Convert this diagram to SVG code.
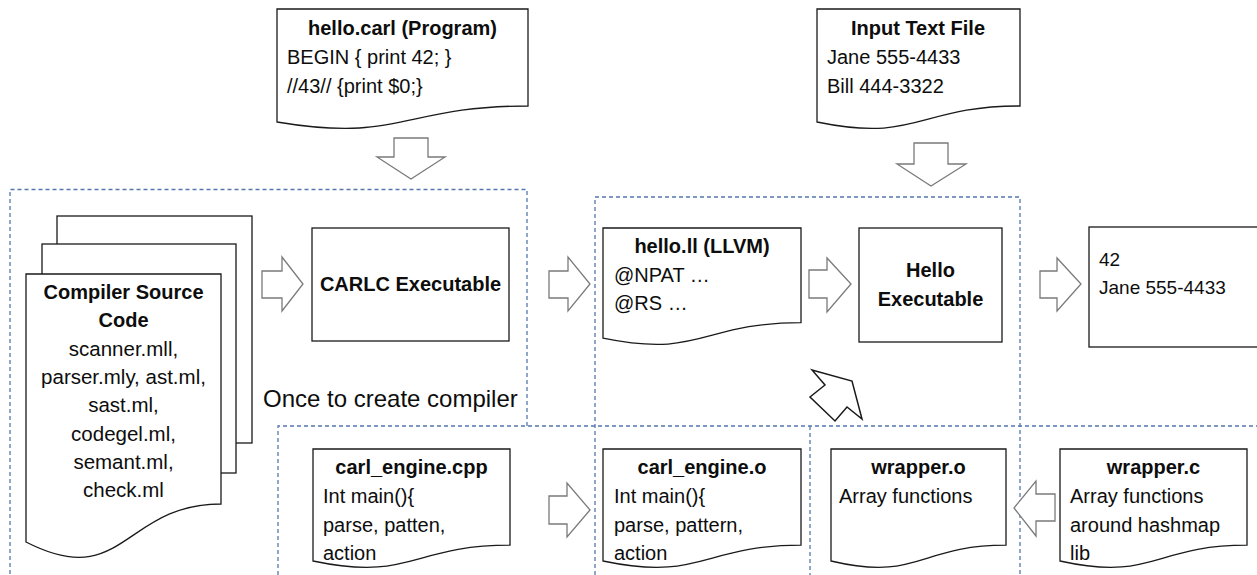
<svg xmlns="http://www.w3.org/2000/svg" width="1257" height="575" viewBox="0 0 1257 575">
<style>
.bg{fill:#ffffff}
.doc{fill:#ffffff;stroke:#1a1a1a;stroke-width:1.3}
.box{fill:#ffffff;stroke:#1a1a1a;stroke-width:1.3}
.zone{fill:none;stroke:#5677b0;stroke-width:1.3;stroke-dasharray:4 3}
.blk{fill:#ffffff;stroke:#7a7a7a;stroke-width:1.3;stroke-linejoin:miter}
.blk2{fill:#ffffff;stroke:#1a1a1a;stroke-width:1.5;stroke-linejoin:miter}
text{font-family:"Liberation Sans",Arial,sans-serif;font-size:20px;fill:#0d0d0d}
.b{font-weight:bold}
.c{text-anchor:middle}
</style>
<rect class="bg" x="0" y="0" width="1257" height="575"/>
<g id="zones">
<path class="zone" d="M527,426 V189.5 H10 V575"/>
<path class="zone" d="M595,575 V197 H1020 V575"/>
<path class="zone" d="M278,575 V426 H1257"/>
<path class="zone" d="M810,426 V575"/>
</g>
<g id="hello_carl">
<path class="doc" d="M277,9 H528 V106 C402.5,106 402.5,143 277,122 Z"/>
<text class="b c" x="402.5" y="35">hello.carl (Program)</text>
<text x="287" y="64">BEGIN { print 42; }</text>
<text x="287" y="93">//43// {print $0;}</text>
</g>
<g id="input_text_file">
<path class="doc" d="M817,9 H1020 V106 C918.5,106 918.5,143 817,122 Z"/>
<text class="b c" x="918" y="35">Input Text File</text>
<text x="827" y="64">Jane 555-4433</text>
<text x="827" y="93">Bill 444-3322</text>
</g>
<g id="compiler_source">
<rect class="box" x="57" y="216" width="195" height="227"/>
<rect class="box" x="42" y="244" width="194" height="229"/>
<path class="doc" d="M26,274 H221 V504 C123.5,504 123.5,592 26,542 Z"/>
<text class="b c" x="123.5" y="299">Compiler Source</text>
<text class="b c" x="123.5" y="327">Code</text>
<text class="c" x="123.5" y="356" style="font-size:20.5px">scanner.mll,</text>
<text class="c" x="123.5" y="384" style="font-size:20.5px">parser.mly, ast.ml,</text>
<text class="c" x="123.5" y="412" style="font-size:20.5px">sast.ml,</text>
<text class="c" x="123.5" y="441" style="font-size:20.5px">codegel.ml,</text>
<text class="c" x="123.5" y="469" style="font-size:20.5px">semant.ml,</text>
<text class="c" x="123.5" y="497" style="font-size:20.5px">check.ml</text>
</g>
<g id="carlc_executable">
<rect class="box" x="312" y="228" width="197" height="113"/>
<text class="b c" x="410.5" y="291">CARLC Executable</text>
</g>
<g id="once_label">
<text x="263" y="407" style="font-size:24px">Once to create compiler</text>
</g>
<g id="hello_ll">
<path class="doc" d="M603,228 H801 V322.6 C702,322.6 702,358.6 603,338.2 Z"/>
<text class="b c" x="702" y="253">hello.ll (LLVM)</text>
<text x="614" y="282">@NPAT …</text>
<text x="614" y="310">@RS …</text>
</g>
<g id="hello_executable">
<rect class="box" x="859" y="228" width="143" height="114"/>
<text class="b c" x="930.5" y="277">Hello</text>
<text class="b c" x="930.5" y="306">Executable</text>
</g>
<g id="output">
<rect class="box" x="1089" y="227" width="180" height="120"/>
<text x="1099" y="266" style="font-size:19px">42</text>
<text x="1099" y="294" style="font-size:19px">Jane 555-4433</text>
</g>
<g id="carl_engine_cpp">
<path class="doc" d="M313,449 H510 V545.2 C411.5,545.2 411.5,581.8 313,561 Z"/>
<text class="b c" x="411.5" y="474">carl_engine.cpp</text>
<text x="323" y="503">Int main(){</text>
<text x="323" y="532">parse, patten,</text>
<text x="323" y="560">action</text>
</g>
<g id="carl_engine_o">
<path class="doc" d="M603,449 H801 V545.2 C702,545.2 702,581.8 603,561 Z"/>
<text class="b c" x="702" y="474">carl_engine.o</text>
<text x="614" y="503">Int main(){</text>
<text x="614" y="532">parse, pattern,</text>
<text x="614" y="560">action</text>
</g>
<g id="wrapper_o">
<path class="doc" d="M831,449 H1006 V545.2 C918.5,545.2 918.5,581.8 831,561 Z"/>
<text class="b c" x="918.5" y="474">wrapper.o</text>
<text x="839" y="503">Array functions</text>
</g>
<g id="wrapper_c">
<path class="doc" d="M1060,449 H1247 V545.2 C1153.5,545.2 1153.5,581.8 1060,561 Z"/>
<text class="b c" x="1153.5" y="474">wrapper.c</text>
<text x="1070" y="503">Array functions</text>
<text x="1070" y="532">around hashmap</text>
<text x="1070" y="560">lib</text>
</g>
<g id="connectors">
<polygon class="blk" points="394,138 428,138 428,157 445,157 411,179 377,157 394,157"/>
<polygon class="blk" points="914,143 948,143 948,164 966,164 931,186 897,164 914,164"/>
<polygon class="blk" points="262,271 282,271 282,257 303,284 282,311 282,298 262,298"/>
<polygon class="blk" points="549,271 568,271 568,257 590,284 568,311 568,298 549,298"/>
<polygon class="blk" points="809,270 827,270 827,258 851,284 827,312 827,298 809,298"/>
<polygon class="blk" points="1040,271 1057,271 1057,258 1081,284 1057,311 1057,298 1040,298"/>
<polygon class="blk" points="549,496 567,496 567,483 590,510 567,537 567,524 549,524"/>
<polygon class="blk" points="1055,494 1036,494 1036,481 1014,508 1036,536 1036,521 1055,521"/>
<polygon class="blk2" points="812,370 852,381 862,419 847,407 835,421 810,397 825,385"/>
</g>
</svg>
